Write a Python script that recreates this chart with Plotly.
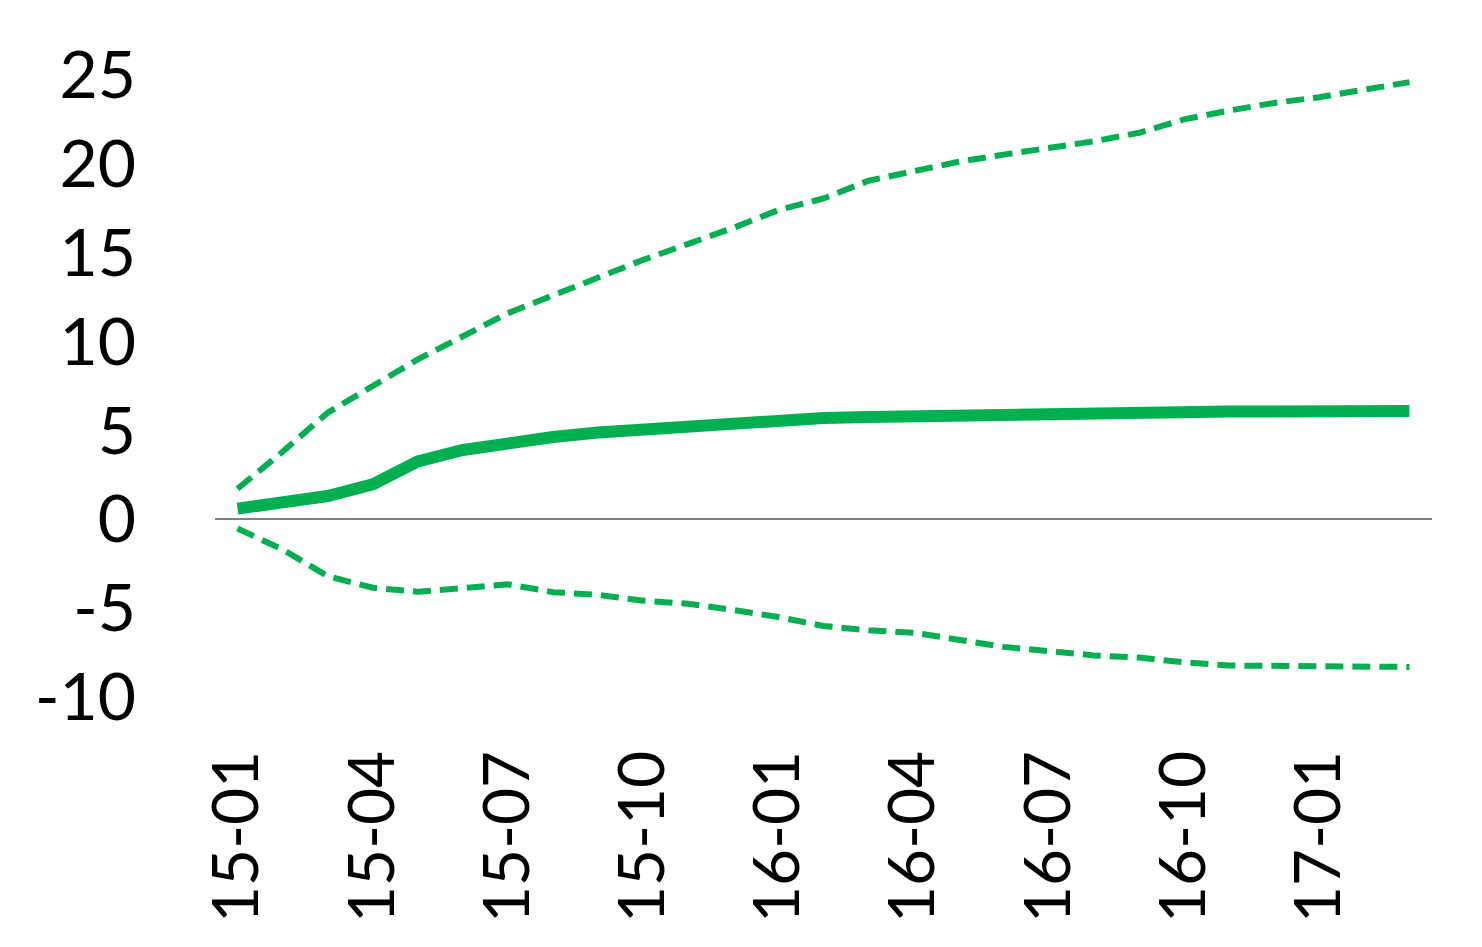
import plotly.graph_objects as go

# monthly periods, yy-mm
months = ['15-01', '15-02', '15-03', '15-04', '15-05', '15-06', '15-07', '15-08', '15-09',
          '15-10', '15-11', '15-12', '16-01', '16-02', '16-03', '16-04', '16-05', '16-06',
          '16-07', '16-08', '16-09', '16-10', '16-11', '16-12', '17-01', '17-02', '17-03']

tick_labels = ['15-01', '15-04', '15-07', '15-10', '16-01', '16-04', '16-07', '16-10', '17-01']

y_ticks = [-10, -5, 0, 5, 10, 15, 20, 25]
y_tick_text = ['-10', '-5', '0', '5', '10', '15', '20', '25']

response = [0.60, 0.97, 1.31, 1.97, 3.26, 3.90, 4.35, 4.63, 4.88, 5.06, 5.29, 5.45, 5.60, 5.70,
            5.75, 5.80, 5.87, 5.95, 5.98, 6.02, 6.05, 6.06, 6.07, 6.07, 6.08, 6.09, 6.09]

upper = [1.72, 3.80, 6.00, 7.50, 9.00, 10.30, 11.60, 12.60, 13.60, 14.60, 15.50, 16.40, 17.40,
         18.05, 19.05, 19.55, 20.12, 20.52, 20.90, 21.27, 21.75, 22.50, 23.00, 23.43, 23.75,
         24.20, 24.60]

lower = [-0.52, -1.70, -3.20, -3.85, -4.08, -3.90, -3.66, -4.10, -4.25, -4.58, -4.75, -5.10,
         -5.50, -6.00, -6.25, -6.38, -6.80, -7.18, -7.42, -7.66, -7.78, -8.05, -8.23, -8.25,
         -8.30, -8.31, -8.31]

green = '#00B050'
font_name = 'Lato, Noto Sans, sans-serif'

fig = go.Figure()

fig.add_trace(go.Scatter(x=months, y=upper, mode='lines',
                         line=dict(color=green, width=6, dash='18px,9px')))
fig.add_trace(go.Scatter(x=months, y=lower, mode='lines',
                         line=dict(color=green, width=6, dash='18px,9px')))
fig.add_trace(go.Scatter(x=months, y=response, mode='lines',
                         line=dict(color=green, width=12)))

# page body has an 8px margin, so the figure is a bit smaller than the window
fig.update_layout(
    width=1474, height=939,
    showlegend=False,
    plot_bgcolor='white', paper_bgcolor='white',
    margin=dict(l=207, r=50, t=67, b=250),
    font=dict(family=font_name, size=66, color='black'),
)

fig.update_xaxes(type='category', range=[-0.5, len(months) - 0.5],
                 tickmode='array', tickvals=tick_labels, ticktext=tick_labels,
                 tickangle=-90, tickfont=dict(size=64),
                 showgrid=False, showline=False, ticks='',
                 ticklabelstandoff=40, automargin=False)

fig.update_yaxes(range=[-10, 25], tickmode='array', tickvals=y_ticks, ticktext=y_tick_text,
                 showgrid=False, showline=False, ticks='',
                 zeroline=True, zerolinecolor='#808080', zerolinewidth=2,
                 ticklabelstandoff=78, automargin=False)

fig.write_html("out.html")
